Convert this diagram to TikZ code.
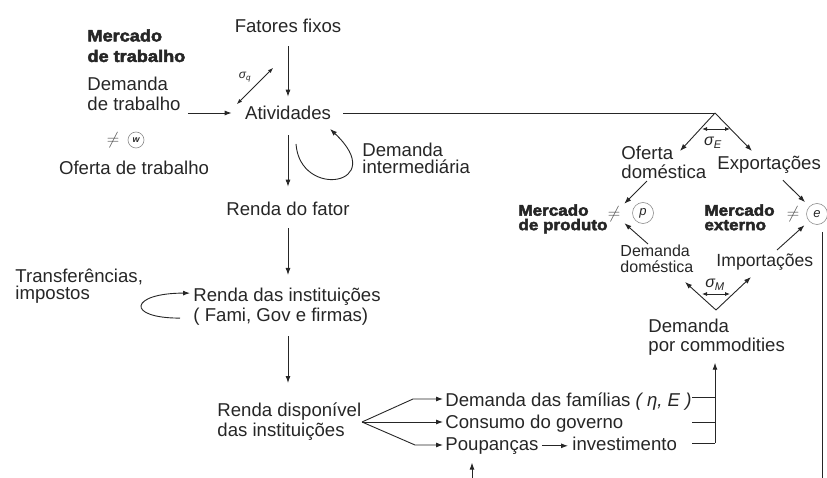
\documentclass[tikz,border=0pt]{standalone}
\usepackage{fontspec}
\setmainfont{Liberation Sans}
\newfontfamily\heavyfont[FakeBold=3,FakeStretch=1.1]{Liberation Sans Bold}
\usetikzlibrary{arrows.meta,calc}

\tikzset{
  txt/.style={inner sep=0pt, align=left, font=\fontsize{18.6}{20}\selectfont},
  txts/.style={txt, font=\fontsize{18.6}{18.5}\selectfont},
  mkt/.style={inner sep=0pt, align=left, font=\heavyfont\fontsize{15.5}{14.5}\selectfont},
  mktw/.style={mkt, font=\heavyfont\fontsize{16.5}{20.5}\selectfont},
  circ/.style={circle, draw=black!45, line width=0.6pt, inner sep=0pt, minimum size=21pt, font=\fontsize{13}{13}\selectfont\itshape},
  ne/.style={inner sep=0pt, font=\fontsize{18}{18}\selectfont, text=black!70},
  sig/.style={inner sep=0pt, font=\fontsize{16}{16}\selectfont\itshape},
  arr/.style={-{Latex[length=7pt,width=5pt]}, line width=0.9pt},
  dbl/.style={{Latex[length=5pt,width=4pt]}-{Latex[length=5pt,width=4pt]}, line width=0.8pt},
}

\begin{document}
\begin{tikzpicture}[x=1pt,y=-1pt,line width=0.9pt,color=black!85]
\useasboundingbox (0,0) rectangle (827,478);
% coluna central
\node[txt] (0) at (288,26) {Fatores fixos};
\node[txt] (1) at (288,113) {Atividades};
\node[txt] (2) at (288,209) {Renda do fator};
\node[txt, anchor=north west] (3) at (193,288) {Renda das instituições\\( Fami, Gov e firmas)};
\node[txt, anchor=north west] (4) at (217,402) {Renda disponível\\das instituições};
% mercado de trabalho
\node[mktw, anchor=north west] (5) at (87,29) {Mercado\\de trabalho};
\node[txt, anchor=north west] (6) at (87,77) {Demanda\\de trabalho};
\node[ne] (7) at (113,140) {$\neq$};
\node[circ, minimum size=16pt, font=\fontsize{9}{9}\selectfont\itshape\bfseries] (8) at (136,140) {w};
\node[txt] (9) at (134,168) {Oferta de trabalho};
\node[txts, anchor=north west, font=\fontsize{18.6}{17}\selectfont] (10) at (362,143) {Demanda\\intermediária};
\node[txts, anchor=north west, font=\fontsize{18.6}{17}\selectfont] (11) at (15,269) {Transferências,\\impostos};
\node[sig, font=\fontsize{12}{12}\selectfont\itshape] (29) at (245,77) {σ\textsubscript{q}};
% mercados de produto e externo
\coordinate (c1) at (715,113);
\coordinate (od) at (680,151);
\coordinate (ex) at (752,151);
\node[sig] (12) at (713,143) {σ\textsubscript{E}};
\node[txts, anchor=north west] (13) at (621,146) {Oferta\\doméstica};
\node[txts, anchor=north west] (14) at (717,156) {Exportações};
\node[mkt, anchor=north west] (15) at (518,204) {Mercado\\de produto};
\node[ne] (16) at (614,214) {$\neq$};
\node[circ] (17) at (643,213) {p};
\node[mkt, anchor=north west] (18) at (704,204) {Mercado\\externo};
\node[ne] (19) at (793,214) {$\neq$};
\node[circ] (20) at (817,214) {e};
\node[txts, anchor=north west, font=\fontsize{16}{16}\selectfont] (21) at (620,244) {Demanda\\doméstica};
\node[txts, anchor=north west, font=\fontsize{17.6}{18}\selectfont] (22) at (716,253) {Importações};
\coordinate (c2) at (716,310);
\coordinate (dd) at (685,282);
\coordinate (im) at (751,277);
\node[sig] (23) at (715,285) {σ\textsubscript{M}};
\node[txts, anchor=north west] (24) at (648,319) {Demanda\\por commodities};
% demandas
\node[txt, anchor=north west] (25) at (445,392) {Demanda das famílias \textit{( η, E )}};
\node[txt, anchor=north west] (26) at (445,415) {Consumo do governo};
\node[txt, anchor=north west] (27) at (445,437) {Poupanças};
\node[txt, anchor=north west] (28) at (572,437) {investimento};
\coordinate (f) at (362,422);
\coordinate (f1) at (413,399);
\coordinate (f3) at (415,445);
\coordinate (b1) at (692,397);
\coordinate (b2) at (692,422);
\coordinate (b3) at (692,443);
\coordinate (k) at (715,443);
\coordinate (s0) at (472,478);
\coordinate (z) at (822,478);

% setas
\draw[arr, shorten <=13pt, shorten >=9pt] (0) -- (1);
\draw[arr, shorten <=15pt, shorten >=15pt] (1) -- (2);
\draw[arr, shorten <=12pt, shorten >=13pt] (2) -- (2 |- 3.north);
\draw[arr, shorten <=10pt, shorten >=19pt] (2 |- 3.south) -- (2 |- 4.north);
\draw[arr, shorten <=7pt, shorten >=13pt] (6.east |- 1) -- (1);
\draw[dbl] ($(1)+(-15,-45)$) -- ($(1)+(-51,-9)$);
\draw[arr] ($(1)+(8,31)$) .. controls +(4,56) and +(60,56) .. ($(1)+(42,16)$);
\draw[arr] ($(3.west)+(-13,11)$) .. controls +(-55,0) and +(-60,0) .. ($(3.west)+(-3,-14)$);
\draw[shorten <=12pt] (1) -- (c1);
\draw[arr] (c1) -- (od);
\draw[arr] (c1) -- (ex);
\draw[dbl] ($(c1)+(-13,16)$) -- ($(c1)+(15,16)$);
\draw[arr, shorten >=5pt] ($(13.south west)+(26,2)$) -- (16);
\draw[arr, shorten >=5pt] ($(21.north west)+(28,0)$) -- (16);
\draw[arr, shorten >=6pt] ($(14.south west)+(66,6)$) -- (20);
\draw[arr, shorten >=6pt] ($(22.north west)+(61,-3)$) -- (20);
\draw ($(z |- 20.south)+(0,7)$) -- (z);
\draw[arr] (c2) -- (dd);
\draw[arr] (c2) -- (im);
\draw[dbl] ($(c2)+(-14,-16)$) -- ($(c2)+(14,-16)$);
\draw[arr, shorten >=7pt] (k) -- (k |- 24.south);
\draw (b1) -- (b1 -| k);
\draw (b2) -- (b2 -| k);
\draw (b3) -- (k);
\draw[arr, shorten >=2pt] (f) -- (f1) -- (f1 -| 25.west);
\draw[arr, shorten >=2pt] (f) -- (f -| 26.west);
\draw[arr, shorten >=2pt] (f) -- (f3) -- (f3 -| 27.west);
\draw[arr, shorten <=3pt, shorten >=4pt] (27.east) -- (27.east -| 28.west);
\draw[arr, shorten >=8pt] (s0) -- (s0 |- 27.south);
\end{tikzpicture}
\end{document}
